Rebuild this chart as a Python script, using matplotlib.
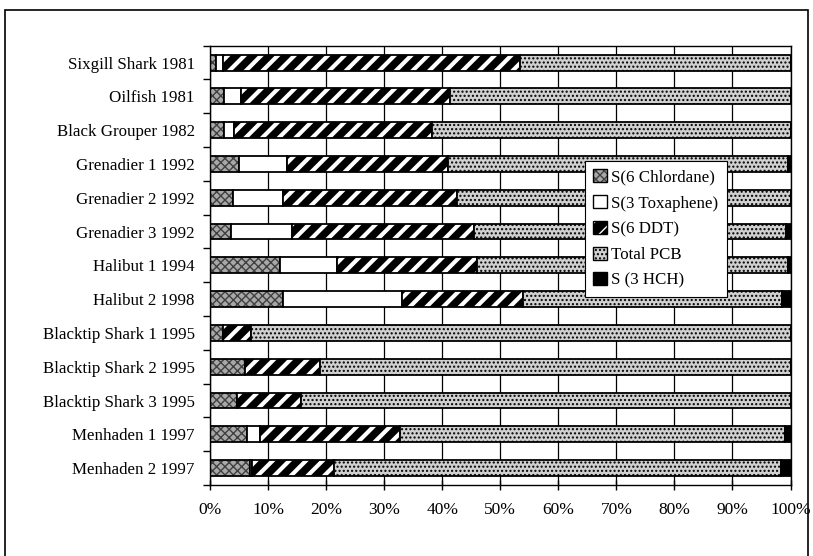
import numpy as np
import matplotlib.pyplot as plt
from matplotlib.patches import Rectangle, Patch

plt.rcParams['font.family'] = ['Liberation Serif', 'DejaVu Serif']
plt.rcParams['hatch.linewidth'] = 1.0

samples = ['Sixgill Shark 1981', 'Oilfish 1981', 'Black Grouper 1982',
           'Grenadier 1 1992', 'Grenadier 2 1992', 'Grenadier 3 1992',
           'Halibut 1 1994', 'Halibut 2 1998', 'Blacktip Shark 1 1995',
           'Blacktip Shark 2 1995', 'Blacktip Shark 3 1995',
           'Menhaden 1 1997', 'Menhaden 2 1997']

# percent of total for each compound class
chlordane = [1.0, 2.4, 2.4, 5.0, 4.0, 3.7, 12.1, 12.6, 2.2, 6.0, 4.6, 6.3, 6.9]
toxaphene = [1.3, 3.0, 1.8, 8.3, 8.6, 10.4, 9.7, 20.4, 0.0, 0.0, 0.0, 2.3, 0.4]
ddt = [51.1, 36.0, 34.1, 27.7, 29.9, 31.3, 24.2, 21.0, 4.8, 12.9, 11.0, 24.2, 14.0]
pcb = [46.6, 58.6, 61.7, 58.5, 57.5, 53.9, 53.5, 44.6, 93.0, 81.1, 84.4, 66.3, 77.0]
hch = [0.0, 0.0, 0.0, 0.5, 0.0, 0.7, 0.5, 1.4, 0.0, 0.0, 0.0, 0.9, 1.7]

labels = ['S(6 Chlordane)', 'S(3 Toxaphene)', 'S(6 DDT)', 'Total PCB', 'S (3 HCH)']
faces = ['#a8a8a8', 'white', 'black', '#d0d0d0', 'black']
hatches = ['xxxx', None, '//', '....', None]
hatch_cols = ['#404040', 'white', 'white', 'black', 'black']

fig = plt.figure(figsize=(8.13, 5.56), dpi=100)
fig.patches.append(Rectangle((5/813, -0.05), 803/813, 1.05 - 10/556, transform=fig.transFigure,
                             fill=False, edgecolor='black', linewidth=1.2))
ax = fig.add_axes([210/813, 1-485/556, 580.5/813, 439.3/556])

y = np.arange(len(samples))
h = 0.47
left = np.zeros(len(samples))
for vals, fc, ht, hc in zip([chlordane, toxaphene, ddt, pcb, hch], faces, hatches, hatch_cols):
    vals = np.array(vals)
    plt.rcParams['hatch.linewidth'] = 3.0 if ht == '//' else 1.0
    ax.barh(y, vals, h, left=left, color=fc, hatch=ht, edgecolor=hc, linewidth=0)
    ax.barh(y, vals, h, left=left, fill=False, edgecolor='black', linewidth=1.3)
    left += vals

ax.set_xlim(0, 100)
ax.set_ylim(len(samples) - 0.5, -0.5)
ax.set_xticks(np.arange(0, 101, 10))
ax.set_xticklabels(['%d%%' % v for v in range(0, 101, 10)], fontsize=12.5)
ax.tick_params(axis='x', direction='inout', length=7, width=1, pad=9)
ax.grid(True, axis='x', color='black', linewidth=0.9)
ax.set_axisbelow(True)

ax.set_yticks(y)
ax.set_yticklabels(samples, fontsize=12.2)
ax.tick_params(axis='y', which='major', length=0, pad=11)
ax.set_yticks(np.arange(-0.5, len(samples), 1), minor=True)
ax.tick_params(axis='y', which='minor', direction='out', length=5, width=1)
for s in ax.spines.values():
    s.set_linewidth(1.0)

handles = []
for fc, ht, hc in zip(faces, hatches, hatch_cols):
    handles.append((Patch(facecolor=fc, edgecolor=hc, hatch=ht, linewidth=0),
                    Patch(fill=False, edgecolor='black', linewidth=1.0)))
leg = ax.legend(handles, labels, loc='upper left', bbox_to_anchor=(0.646, 0.7375),
                fontsize=12.2, frameon=True, fancybox=False, edgecolor='black',
                framealpha=1, handlelength=0.8, handleheight=0.8, handletextpad=0.25,
                labelspacing=0.55, borderpad=0.5, borderaxespad=0)
leg.get_frame().set_linewidth(0.8)

plt.savefig('out.png', dpi=100)
